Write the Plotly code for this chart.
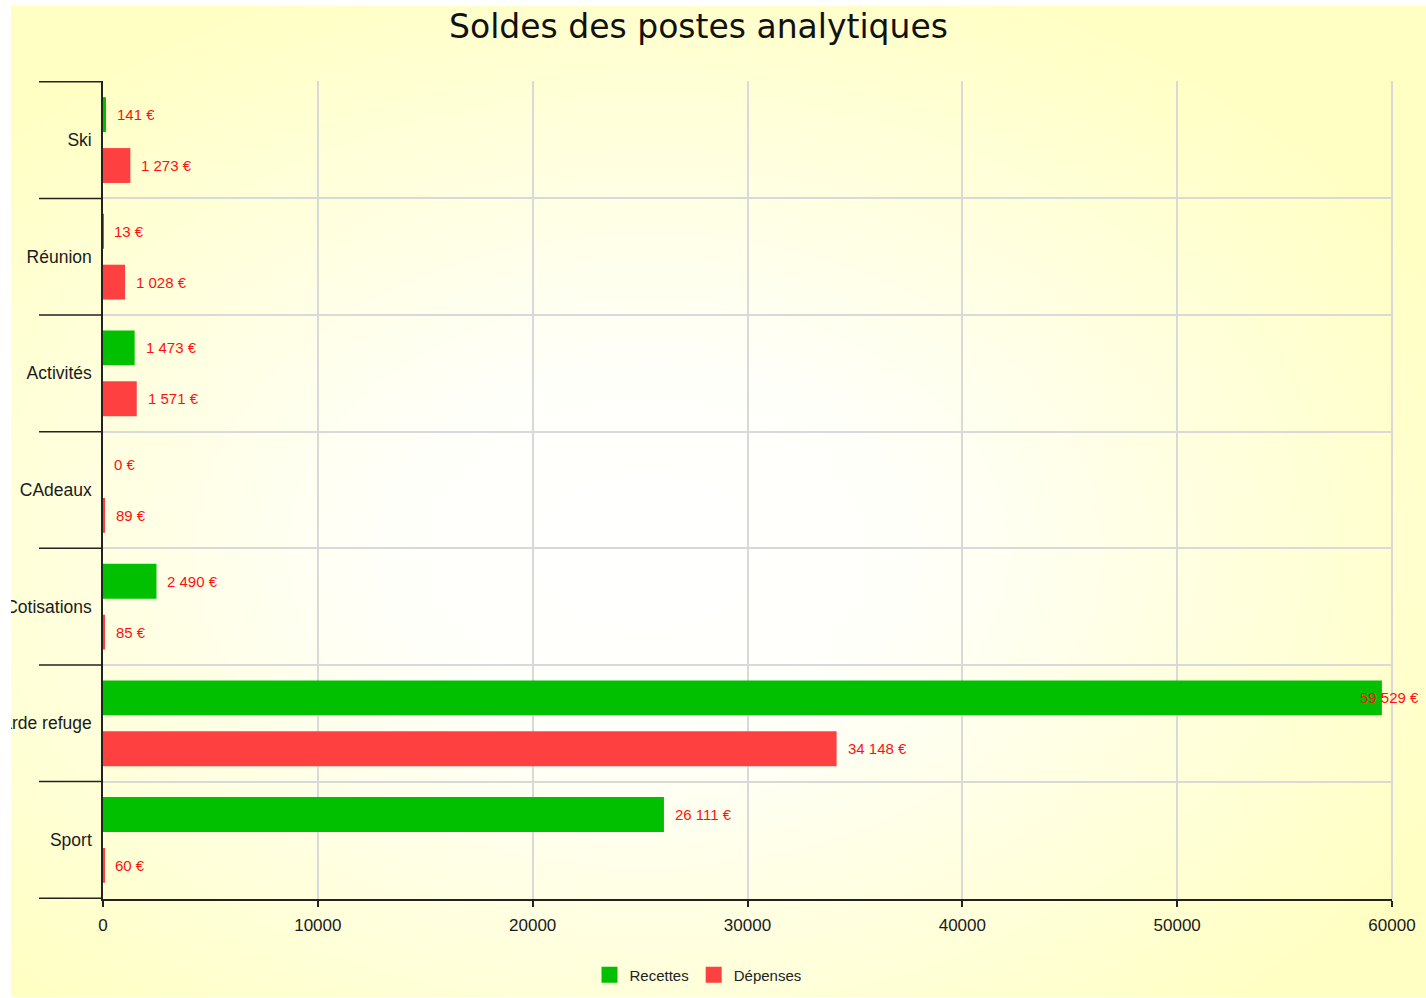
import base64
import plotly.graph_objects as go

categories = ["Ski", "Réunion", "Activités", "CAdeaux", "Cotisations", "Garde refuge", "Sport"]
recettes = [141, 13, 1473, 0, 2490, 59529, 26111]
depenses = [1273, 1028, 1571, 89, 85, 34148, 60]
x_ticks = [0, 10000, 20000, 30000, 40000, 50000, 60000]
title_text = "Soldes des postes analytiques"
series_names = ["Recettes", "Dépenses"]

GREEN = "#00C000"
RED = "#FF4040"
LABEL_RED = "#FF1010"
W, H = 1426, 998
ML, MR, MT, MB = 103, 34, 81, 99
PW, PH = W - ML - MR, H - MT - MB
BARGAP = 0.128
BARGROUPGAP = 0.314
XMAX = 60000


def px_to_paper_x(px):
    return (px - ML) / PW


def px_to_paper_y(py):
    return (H - MB - py) / PH


def fmt(v):
    return f"{v:,}".replace(",", " ") + " €"


svg = f"""<svg xmlns='http://www.w3.org/2000/svg' width='1415' height='991' viewBox='0 0 1415 991' preserveAspectRatio='none'>
<defs><radialGradient id='g' cx='0.45' cy='0.55' r='0.62'>
<stop offset='0' stop-color='#FFFFFF'/>
<stop offset='0.3' stop-color='#FFFFFA'/>
<stop offset='1' stop-color='#FFFFC4'/>
</radialGradient></defs>
<rect x='0' y='0' width='1415' height='991' fill='url(#g)'/>
</svg>"""
svg_uri = "data:image/svg+xml;base64," + base64.b64encode(svg.encode()).decode()

fig = go.Figure()
fig.add_trace(go.Bar(orientation="h", y=categories, x=recettes, name=series_names[0],
                     marker=dict(color=GREEN, line=dict(width=0)), showlegend=False,
                     legendgroup="r"))
fig.add_trace(go.Bar(orientation="h", y=categories, x=depenses, name=series_names[1],
                     marker=dict(color=RED, line=dict(width=0)), showlegend=False,
                     legendgroup="d"))
# legend entries with larger square swatches
fig.add_trace(go.Scatter(x=[None], y=[None], mode="markers", name=series_names[0],
                         marker=dict(symbol="square", size=16, color=GREEN), legendgroup="r"))
fig.add_trace(go.Scatter(x=[None], y=[None], mode="markers", name=series_names[1],
                         marker=dict(symbol="square", size=16, color=RED), legendgroup="d"))

annotations = []
off = (1 - BARGAP) / 4
for i, cat in enumerate(categories):
    for vals, sign in ((recettes, -1), (depenses, 1)):
        v = vals[i]
        shift = 9 if v < 0.95 * XMAX else -24
        annotations.append(dict(x=v, y=i + sign * off, xref="x", yref="y", text=fmt(v),
                                showarrow=False, xanchor="left", yanchor="middle", xshift=shift,
                                font=dict(family="Arial", size=15, color=LABEL_RED)))

shapes = []
# dark category divider lines left of the axis
for i in range(len(categories) + 1):
    shapes.append(dict(type="line", xref="paper", yref="y", x0=px_to_paper_x(39), x1=0,
                       y0=i - 0.5, y1=i - 0.5, line=dict(color="#222222", width=1.5), layer="above"))
# right border of plot
shapes.append(dict(type="line", xref="paper", yref="paper", x0=1, x1=1, y0=0, y1=1,
                   line=dict(color="#D9D9D9", width=2), layer="below"))
# white margins (left strip and top strip)
shapes.append(dict(type="rect", xref="paper", yref="paper", x0=px_to_paper_x(-5), x1=px_to_paper_x(11),
                   y0=px_to_paper_y(H + 5), y1=px_to_paper_y(-5), fillcolor="white", line=dict(width=0),
                   layer="above"))
shapes.append(dict(type="rect", xref="paper", yref="paper", x0=px_to_paper_x(-5), x1=px_to_paper_x(W + 5),
                   y0=px_to_paper_y(6), y1=px_to_paper_y(-5), fillcolor="white", line=dict(width=0),
                   layer="above"))

fig.update_layout(
    width=W, height=H,
    margin=dict(l=ML, r=MR, t=MT, b=MB, autoexpand=False),
    paper_bgcolor="white",
    plot_bgcolor="rgba(0,0,0,0)",
    barmode="group", bargap=BARGAP, bargroupgap=BARGROUPGAP,
    title=dict(text=title_text, x=px_to_paper_x(698.5), xref="paper", xanchor="center",
               y=1 - 26 / H, yref="container", yanchor="middle",
               font=dict(family="DejaVu Sans", size=33, color="#111111")),
    font=dict(family="Arial", color="#222222"),
    xaxis=dict(range=[0, XMAX], tickvals=x_ticks, tickformat="d", showgrid=True,
               gridcolor="#D9D9D9", gridwidth=2, zeroline=False, showline=True,
               linecolor="#222222", linewidth=1.5, ticks="outside", ticklen=6,
               tickcolor="#222222", tickwidth=1.5, tickfont=dict(family="Arial", size=17, color="#1a1a1a"),
               ticklabelstandoff=4, fixedrange=True),
    yaxis=dict(categoryorder="array", categoryarray=categories, autorange="reversed",
               showgrid=True, gridcolor="#D9D9D9", gridwidth=2, tickson="boundaries",
               ticks="", showline=True, linecolor="#222222", linewidth=1.5, zeroline=False,
               tickfont=dict(family="Arial", size=17.5, color="#1a1a1a"), ticklabelstandoff=6),
    legend=dict(orientation="h", x=px_to_paper_x(698), xanchor="center", y=px_to_paper_y(975),
                yanchor="middle", font=dict(family="Arial", size=15, color="#222222"),
                bgcolor="rgba(0,0,0,0)"),
    images=[dict(source=svg_uri, xref="paper", yref="paper", x=px_to_paper_x(11), y=px_to_paper_y(6),
                 sizex=1415 / PW, sizey=991 / PH, sizing="stretch", xanchor="left", yanchor="top",
                 layer="below")],
    annotations=annotations,
    shapes=shapes,
    showlegend=True,
)

fig.write_html("out.html", config={"displayModeBar": False},
               post_script="document.body.style.margin='0';document.body.style.overflow='hidden';")
